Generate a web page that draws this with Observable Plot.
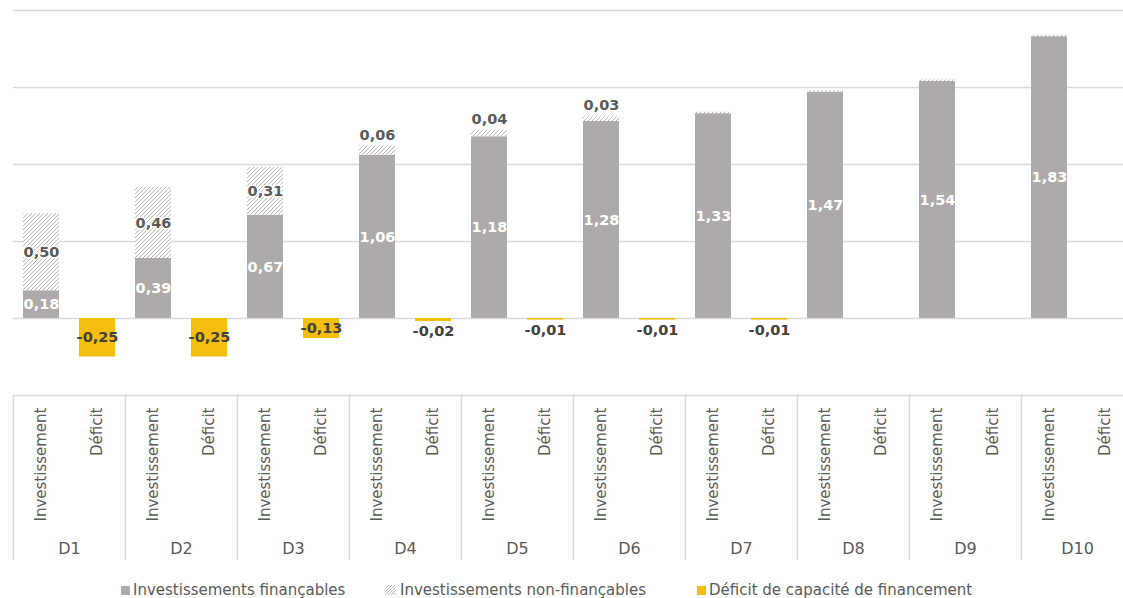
<!DOCTYPE html>
<html>
<head>
<meta charset="utf-8">
<script src="https://cdn.jsdelivr.net/npm/d3@7"></script>
<script src="https://cdn.jsdelivr.net/npm/@observablehq/plot@0.6"></script>
<style>
html, body { margin: 0; padding: 0; background: #fff; overflow: hidden; }
#chart { width: 1123px; height: 572px; overflow: hidden; }
#chart svg { max-width: none !important; }
.legend { position: relative; width: 1123px; height: 26px; font-family: "DejaVu Sans", sans-serif; font-size: 15px; color: #595959; }
.legend .item { position: absolute; top: 8px; display: flex; align-items: center; white-space: nowrap; line-height: 20px; }
.legend .sw { width: 9px; height: 9px; margin-right: 3px; display: inline-block; }
</style>
</head>
<body>
<div id="chart"></div>
<div class="legend" id="legend"></div>
<script>
// ---- data ----
const deciles = ["D1", "D2", "D3", "D4", "D5", "D6", "D7", "D8", "D9", "D10"];
const subCategories = ["Investissement", "Déficit"];
const seriesNames = ["Investissements finançables", "Investissements non-finançables", "Déficit de capacité de financement"];
const financables = [0.18, 0.39, 0.67, 1.06, 1.18, 1.28, 1.33, 1.47, 1.54, 1.83];
const nonFinancables = [0.50, 0.46, 0.31, 0.06, 0.04, 0.03, 0.01, 0.01, 0.01, 0.01];
const deficits = [-0.25, -0.25, -0.13, -0.02, -0.01, -0.01, -0.01, 0, 0, 0];
const gridValues = [0, 0.5, 1, 1.5, 2];
const yDomain = [-0.5, 2];

// ---- build table ----
const rows = [];
deciles.forEach((d, i) => {
  rows.push({decile: d, type: subCategories[0], series: seriesNames[0], value: financables[i]});
  rows.push({decile: d, type: subCategories[0], series: seriesNames[1], value: nonFinancables[i]});
  rows.push({decile: d, type: subCategories[1], series: seriesNames[2], value: deficits[i]});
});
const fmt = v => v.toFixed(2).replace(".", ",");

const finLabels = deciles.map((d, i) => ({decile: d, type: subCategories[0], y: financables[i] / 2, text: fmt(financables[i])}));
const nfInside = [], nfAbove = [];
deciles.forEach((d, i) => {
  const v = nonFinancables[i];
  if (v >= 0.1) nfInside.push({decile: d, type: subCategories[0], y: financables[i] + v / 2, text: fmt(v)});
  else if (v >= 0.02) nfAbove.push({decile: d, type: subCategories[0], y: financables[i] + v, text: fmt(v)});
});
const defInside = [], defBelow = [];
deciles.forEach((d, i) => {
  const v = deficits[i];
  if (v === 0) return;
  if (Math.abs(v) >= 0.1) defInside.push({decile: d, type: subCategories[1], y: v / 2, text: fmt(v)});
  else defBelow.push({decile: d, type: subCategories[1], y: v, text: fmt(v)});
});

// ---- style ----
const W = 1134, ML = 12, MR = 0;
const step = (W - ML - MR) / deciles.length;
const colors = ["#AEAAAA", "url(#hatch)", "#F5BD0C"];
const grid = "#D9D9D9";

const chart = Plot.plot({
  width: W,
  height: 572,
  marginTop: 10,
  marginBottom: 177,
  marginLeft: ML,
  marginRight: MR,
  style: {fontFamily: "DejaVu Sans, sans-serif", fontSize: "15px", color: "#595959", background: "#fff", overflow: "visible", maxWidth: "none"},
  fx: {domain: deciles, padding: 0, axis: null},
  x: {domain: subCategories, paddingInner: 0.36, paddingOuter: 0.17, axis: null},
  y: {domain: yDomain, axis: null},
  color: {domain: seriesNames, range: colors},
  marks: [
    Plot.ruleY(gridValues, {stroke: grid, strokeWidth: 1.5}),
    Plot.ruleY([yDomain[0]], {stroke: grid, strokeWidth: 1.5}),
    Plot.barY(rows, {fx: "decile", x: "type", y: "value", fill: "series"}),
    Plot.text(finLabels, {fx: "decile", x: "type", y: "y", text: "text", fill: "#fff", fontWeight: "bold", fontSize: 14.5}),
    Plot.text(nfInside, {fx: "decile", x: "type", y: "y", text: "text", fill: "#595959", fontWeight: "bold", fontSize: 14.5, stroke: "#fff", strokeWidth: 3, paintOrder: "stroke"}),
    Plot.text(nfAbove, {fx: "decile", x: "type", y: "y", text: "text", fill: "#595959", fontWeight: "bold", fontSize: 14.5, dy: -11}),
    Plot.text(defInside, {fx: "decile", x: "type", y: "y", text: "text", fill: "#404040", fontWeight: "bold", fontSize: 14.5}),
    Plot.text(defBelow, {fx: "decile", x: "type", y: "y", text: "text", fill: "#404040", fontWeight: "bold", fontSize: 14.5, dy: 10}),
    Plot.axisX({anchor: "bottom", tickRotate: -90, tickSize: 0, tickPadding: 12, fontSize: 15, fill: "#595959", label: null}),
    Plot.axisFx({anchor: "bottom", tickSize: 0, tickPadding: 147, fontSize: 16, fill: "#595959", label: null}),
    Plot.axisFx({anchor: "bottom", tickSize: 165, tickFormat: () => "", stroke: grid, strokeWidth: 1.5, dx: -step / 2, label: null})
  ]
});
chart.style.maxWidth = "none";

d3.select(chart).insert("defs", ":first-child").html(`
  <pattern id="hatch" patternUnits="userSpaceOnUse" width="4" height="4">
    <rect width="4" height="4" fill="#fff"/>
    <path d="M-1,1 l2,-2 M0,4 l4,-4 M3,5 l2,-2" stroke="#B5B5B5" stroke-width="1"/>
  </pattern>`);

document.getElementById("chart").appendChild(chart);

// ---- legend ----
const legendX = [121, 386, 697];
const legend = d3.select("#legend");
seriesNames.forEach((name, i) => {
  const item = legend.append("div").attr("class", "item").style("left", legendX[i] + "px");
  if (i === 1) {
    item.append("span").html(`<svg width="10" height="10" style="margin-right:4px;display:block"><defs><pattern id="hatchL" patternUnits="userSpaceOnUse" width="3" height="3"><path d="M-1,1 l2,-2 M0,3 l3,-3 M2,4 l2,-2" stroke="#A0A0A0" stroke-width="0.8"/></pattern></defs><rect width="10" height="10" fill="url(#hatchL)"/></svg>`);
  } else {
    item.append("span").attr("class", "sw").style("background", colors[i]);
  }
  item.append("span").text(name);
});
</script>
</body>
</html>
